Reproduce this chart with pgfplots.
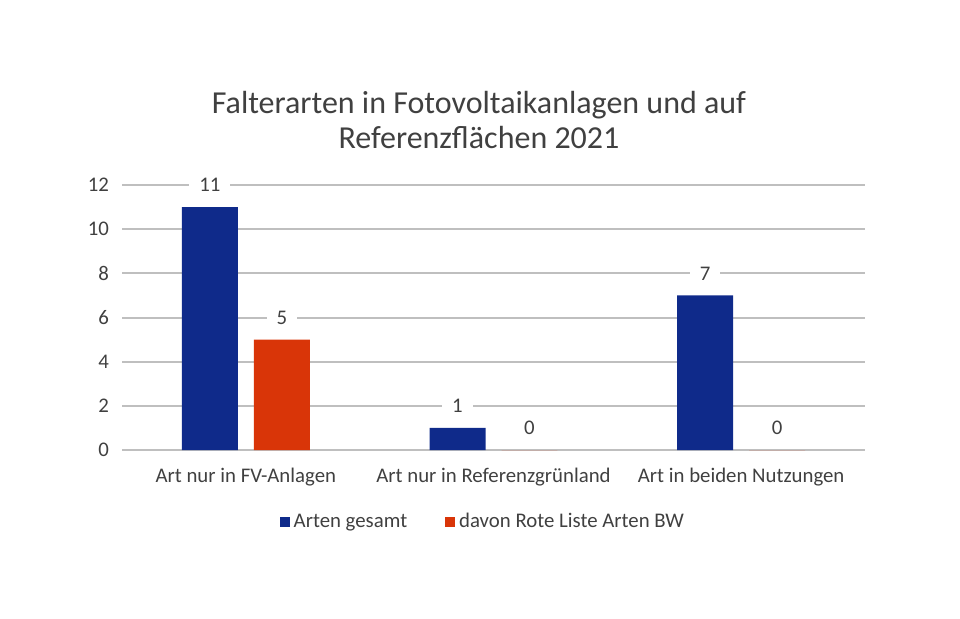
\documentclass[border=0pt]{standalone}
\usepackage{pgfplots}
\pgfplotsset{compat=1.18}
\usepackage{fontspec}
\setmainfont{Carlito}
\definecolor{barblue}{HTML}{0F2A8A}
\definecolor{barred}{HTML}{D93508}
\definecolor{gridgray}{HTML}{BFBFBF}
\definecolor{txt}{HTML}{404040}
\begin{document}
\begin{tikzpicture}
\path[use as bounding box] (0,0) rectangle (480pt,309pt);
\begin{axis}[
  at={(61pt,84pt)}, anchor=south west,
  scale only axis, width=371.5pt, height=132.5pt,
  xmin=-0.5, xmax=2.5, ymin=0, ymax=12,
  ybar=8pt, bar width=0.226,
  ytick={0,2,...,12},
  xtick={0,1,2},
  xticklabels={Art nur in FV-Anlagen, Art nur in Referenzgrünland, Art in beiden Nutzungen},
  axis line style={draw=none},
  major tick length=0pt,
  ymajorgrids, grid style={gridgray, line width=1pt},
  tick label style={font=\fontsize{10.4}{12}\selectfont, text=txt},
  /pgf/number format/assume math mode=true,
  xticklabel style={anchor=base, yshift=-16pt},
  yticklabel style={xshift=-3pt},
  title={Falterarten in Fotovoltaikanlagen und auf\\Referenzflächen 2021},
  title style={at={(0.4805,1.2015)}, anchor=center, align=center, font=\fontsize{16}{17.5}\selectfont, text=txt},
  legend style={at={(0.487,-0.272)}, anchor=center, draw=none, fill=none, font=\fontsize{10.4}{12}\selectfont, text=txt, legend columns=2, /tikz/every even column/.append style={column sep=17pt}},
  nodes near coords,
  every node near coord/.append style={font=\fontsize{10.4}{12}\selectfont, text=txt, fill=white, anchor=center, yshift=11pt, inner xsep=5pt, inner ysep=2pt},
]
\addplot[fill=barblue, draw=none,
  legend image code/.code={\fill[barblue] (0pt,-2.5pt) rectangle (5pt,2.5pt);}]
  coordinates {(0,11) (1,1) (2,7)};
\addlegendentry{Arten gesamt}
\addplot[fill=barred, draw=none,
  legend image code/.code={\fill[barred] (0pt,-2.5pt) rectangle (5pt,2.5pt);}]
  coordinates {(0,5) (1,0) (2,0)};
\addlegendentry{davon Rote Liste Arten BW}
\end{axis}
\end{tikzpicture}
\end{document}
